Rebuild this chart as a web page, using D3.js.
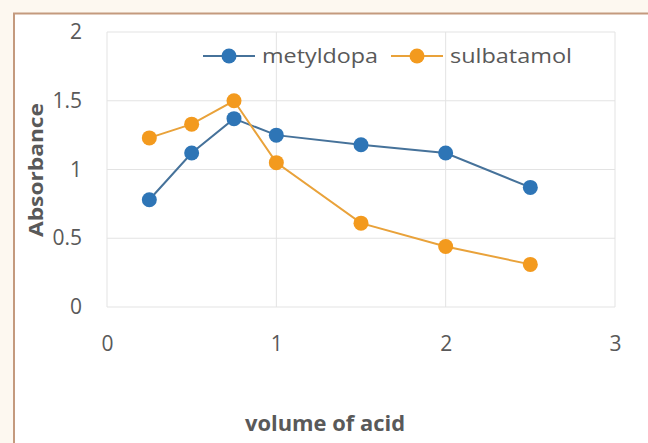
<!DOCTYPE html>
<meta charset="utf-8">
<head>
  <title>Absorbance vs volume of acid</title>
</head>

<style>
body {
  margin: 0;
  background: #fdf8f0;
}
text {
  font-family: "Open Sans", sans-serif;
  fill: #595959;
}
.grid line {
  stroke: #e3e3e3;
}
</style>

<body>
  <svg width="648" height="443"></svg>

  <script src="https://cdnjs.cloudflare.com/ajax/libs/d3/7.8.5/d3.min.js"></script>
  <script>
var width = 648, height = 443

var seriesNames = ['metyldopa', 'sulbatamol']
var seriesColors = ['#2e75b6', '#f39a1e']
var lineColors = ['#46729a', '#e9a23a']
var volume = [0.25, 0.5, 0.75, 1, 1.5, 2, 2.5]
var metyldopa = [0.78, 1.12, 1.37, 1.25, 1.18, 1.12, 0.87]
var sulbatamol = [1.23, 1.33, 1.50, 1.05, 0.61, 0.44, 0.31]
var xTicks = [0, 1, 2, 3]
var yTicks = [0, 0.5, 1, 1.5, 2]

var svg = d3.select('svg')

// chart frame (right and bottom edges fall outside the picture)
svg.append('rect')
  .attr('x', 14).attr('y', 13.5)
  .attr('width', 660).attr('height', 440)
  .attr('fill', '#ffffff')
  .attr('stroke', '#c49a7e')
  .attr('stroke-width', 2)

var x = d3.scaleLinear().domain([0, 3]).range([107, 615])
var y = d3.scaleLinear().domain([0, 2]).range([307, 32])

// gridlines
var grid = svg.append('g').attr('class', 'grid')
grid.selectAll('.h')
  .data(yTicks)
  .enter().append('line')
  .attr('x1', x(0)).attr('x2', x(3))
  .attr('y1', function(d) { return y(d) })
  .attr('y2', function(d) { return y(d) })
grid.selectAll('.v')
  .data(xTicks)
  .enter().append('line')
  .attr('y1', y(0)).attr('y2', y(2))
  .attr('x1', function(d) { return x(d) })
  .attr('x2', function(d) { return x(d) })

// axes (labels only)
svg.append('g')
  .attr('transform', 'translate(' + (x(0) - 25) + ',0)')
  .call(d3.axisLeft(y).tickValues(yTicks).tickSize(0).tickPadding(0).tickFormat(d3.format('')))
svg.append('g')
  .attr('transform', 'translate(0,' + (y(0) + 29) + ')')
  .call(d3.axisBottom(x).tickValues(xTicks).tickSize(0).tickPadding(0).tickFormat(d3.format('d')))
svg.selectAll('.domain').remove()
svg.selectAll('.tick text')
  .style('font-size', '21px')
  .style('font-family', '"Open Sans", sans-serif')
  .attr('fill', '#595959')

// axis titles
svg.append('text')
  .attr('transform', 'translate(43,170) rotate(-90)')
  .attr('text-anchor', 'middle')
  .attr('textLength', 134)
  .attr('lengthAdjust', 'spacingAndGlyphs')
  .style('font-size', '19px')
  .style('font-weight', 'bold')
  .attr('fill', '#404040')
  .text('Absorbance')
svg.append('text')
  .attr('x', 325).attr('y', 431)
  .attr('text-anchor', 'middle')
  .attr('textLength', 160)
  .attr('lengthAdjust', 'spacingAndGlyphs')
  .style('font-size', '21px')
  .style('font-weight', 'bold')
  .attr('fill', '#404040')
  .text('volume of acid')

// series
var series = [metyldopa, sulbatamol]
var line = d3.line()
  .x(function(d, i) { return x(volume[i]) })
  .y(function(d) { return y(d) })

series.forEach(function(vals, s) {
  svg.append('path')
    .datum(vals)
    .attr('fill', 'none')
    .attr('stroke', lineColors[s])
    .attr('stroke-width', 2)
    .attr('d', line)
  svg.selectAll('.m' + s)
    .data(vals)
    .enter().append('circle')
    .attr('cx', function(d, i) { return x(volume[i]) })
    .attr('cy', function(d) { return y(d) })
    .attr('r', 7.5)
    .attr('fill', seriesColors[s])
})

// legend
var legendX = [203, 391]
var legendW = [116, 122]
var legend = svg.selectAll('.legend')
  .data(seriesNames)
  .enter().append('g')
  .attr('transform', function(d, i) { return 'translate(' + legendX[i] + ',56)' })
legend.append('line')
  .attr('x1', 0).attr('x2', 52)
  .attr('stroke', function(d, i) { return lineColors[i] })
  .attr('stroke-width', 2)
legend.append('circle')
  .attr('cx', 26).attr('r', 7.5)
  .attr('fill', function(d, i) { return seriesColors[i] })
legend.append('text')
  .attr('x', 59).attr('y', 7)
  .attr('textLength', function(d, i) { return legendW[i] })
  .attr('lengthAdjust', 'spacingAndGlyphs')
  .style('font-size', '20px')
  .text(function(d) { return d })
  </script>
</body>
</html>
